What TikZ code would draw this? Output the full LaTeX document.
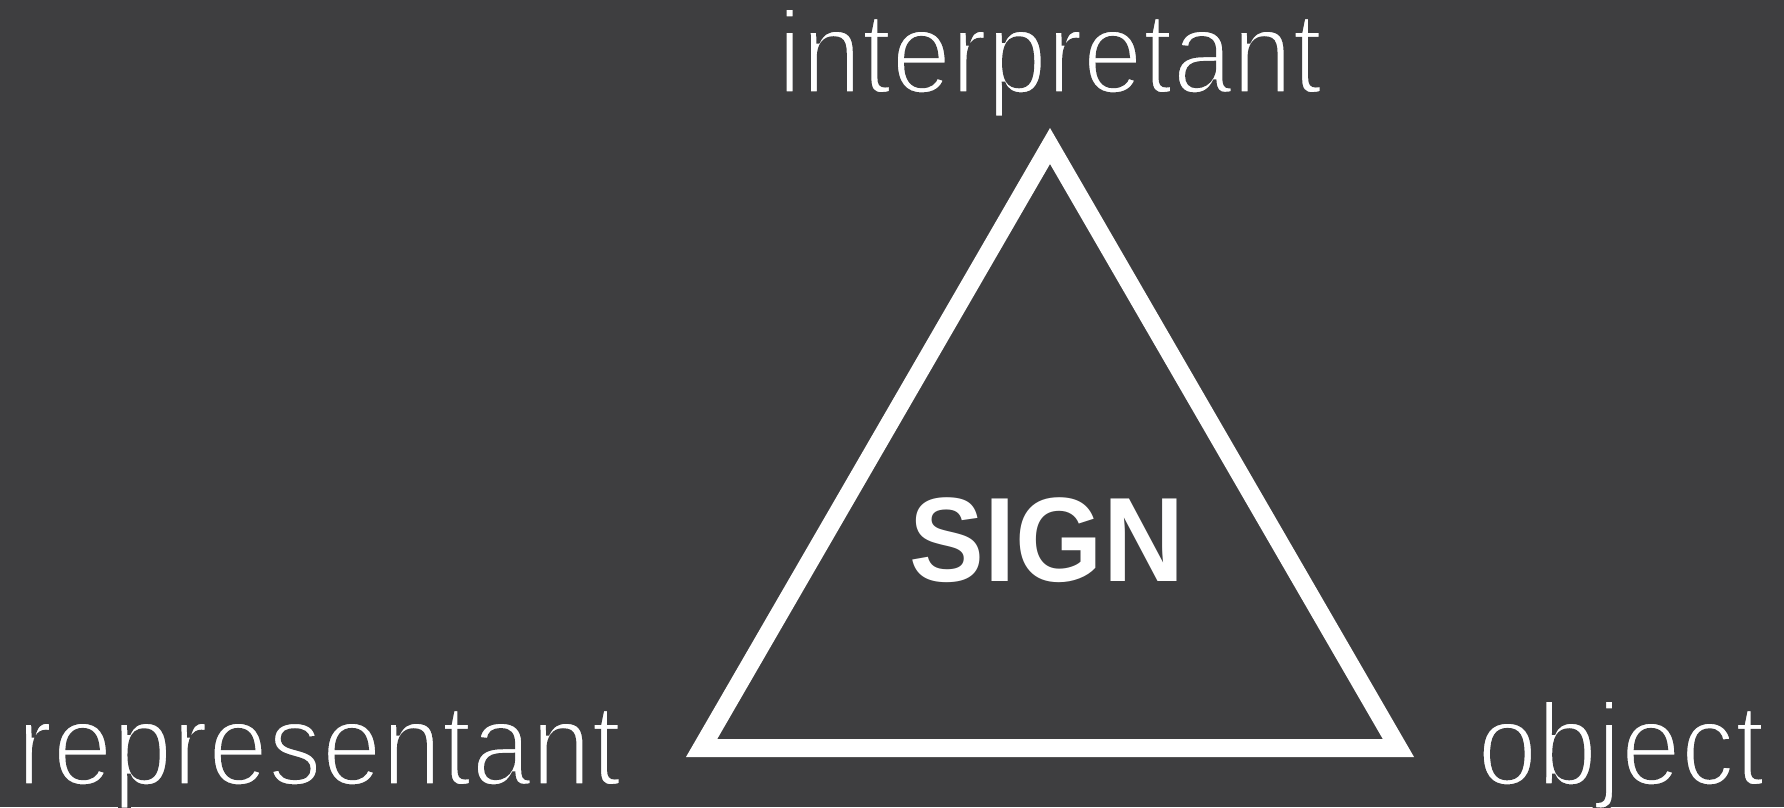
\documentclass[tikz,border=0pt]{standalone}
\usepackage{fontspec}
\setmainfont{Liberation Sans}
\newfontfamily\lblfont[FakeStretch=0.92]{Liberation Sans}
\newfontfamily\signfont[FakeStretch=0.935]{Liberation Sans}
\definecolor{bgc}{RGB}{62,62,64}
\newcommand{\thinglyphs}{\special{pdf:literal direct 2 Tr 3.5 w 0 j 0.243 0.243 0.251 RG}}
\tikzset{
  lbl/.style={text=white, inner sep=0pt, anchor=base, font=\lblfont\fontsize{117}{117}\selectfont},
  signlbl/.style={text=white, inner sep=0pt, anchor=base, font=\signfont\bfseries\fontsize{120}{120}\selectfont},
  tri/.style={draw=white, line width=18pt, line join=miter}
}
\begin{document}
\begin{tikzpicture}[x=1pt,y=-1pt]
\fill[bgc] (0,0) rectangle (1784,807);
\useasboundingbox (0,0) rectangle (1784,807);
\coordinate (top) at (1050,146);
\coordinate (bl) at (701.6,748);
\coordinate (br) at (1398.4,748);
\draw[tri] (top) -- (bl) -- (br) -- cycle;
\node[lbl] (interp) at (1050,93) {\thinglyphs interpretant};
\node[lbl] (repr) at (319,785) {\thinglyphs representant};
\node[lbl] (obj) at (1621,785) {\thinglyphs object};
\node[signlbl] (sign) at (1047,581) {SIGN};
\end{tikzpicture}
\end{document}
